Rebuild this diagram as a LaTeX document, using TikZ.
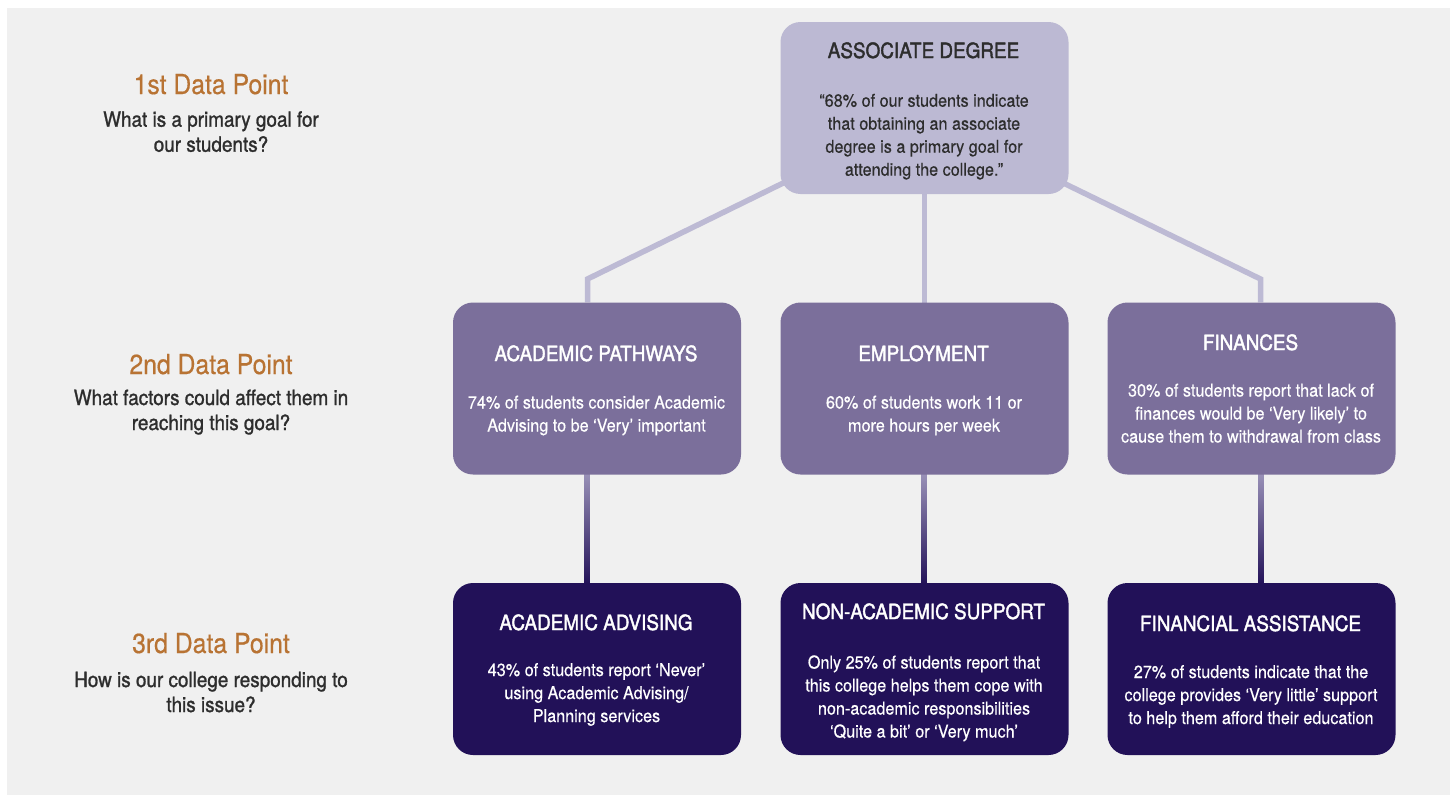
\documentclass[tikz,border=0pt]{standalone}
\usepackage{fontspec}
\setmainfont{TeX Gyre Heros}[FakeStretch=0.92,FakeBold=0.4]
\newfontfamily\titlefont{TeX Gyre Heros}[FakeStretch=0.9,FakeBold=1.8]
\newfontfamily\qfont{TeX Gyre Heros}[FakeStretch=0.9,FakeBold=1.2]
\newfontfamily\dpfont{TeX Gyre Heros}[FakeStretch=0.9,FakeBold=0.5]
\newcommand\mlines[1]{\begin{tabular}[t]{@{}c@{}}#1\end{tabular}}
\definecolor{bgcol}{HTML}{F0F0F0}
\definecolor{lvla}{HTML}{BCB9D3}
\definecolor{lvlb}{HTML}{7B6F9B}
\definecolor{lvlc}{HTML}{221158}
\definecolor{conncol}{HTML}{BDBAD4}
\definecolor{gradtop}{HTML}{9A92B8}
\definecolor{dpcol}{HTML}{B87333}
\definecolor{darktext}{HTML}{2D2D2D}
\pgfdeclarelayer{bg}
\pgfdeclarelayer{conn}
\pgfsetlayers{bg,conn,main}
\begin{document}
\begin{tikzpicture}[x=1pt,y=-1pt,
  box/.style={rounded corners=20pt, minimum width=288pt, minimum height=172pt, inner sep=0pt, draw=none},
  boxa/.style={box, fill=lvla},
  boxb/.style={box, fill=lvlb},
  boxc/.style={box, fill=lvlc},
  ttl/.style={anchor=base, inner sep=0pt, font=\titlefont\fontsize{21}{25}\selectfont},
  bodytxt/.style={anchor=base, inner sep=0pt, font=\fontsize{17.6}{23}\selectfont},
  dptxt/.style={anchor=base, inner sep=0pt, text=dpcol, font=\dpfont\fontsize{27.5}{32}\selectfont},
  qtxt/.style={anchor=base, inner sep=0pt, text=darktext, font=\qfont\fontsize{21}{25}\selectfont},
  link/.style={draw=conncol, line width=5.5pt, miter limit=10},
]
\useasboundingbox (0,0) rectangle (1450,795);
\begin{pgfonlayer}{bg}
\fill[bgcol] (7,8) rectangle (1450,795);
\end{pgfonlayer}

% boxes
\node[boxa] (top) at (924.5,108) {};
\node[boxb] (ap)  at (597,388.5) {};
\node[boxb] (emp) at (924.5,388.5) {};
\node[boxb] (fin) at (1251.5,388.5) {};
\node[boxc] (aa)  at (597,669) {};
\node[boxc] (nas) at (924.5,669) {};
\node[boxc] (fa)  at (1251.5,669) {};

% texts in boxes
\node[ttl, text=darktext] (topt) at (923.5,58) {ASSOCIATE DEGREE};
\node[bodytxt, text=darktext] (topb) at (924,106.7) {\mlines{“68\% of our students indicate\\that obtaining an associate\\degree is a primary goal for\\attending the college.”}};

\node[ttl, text=white] (apt) at (596,361) {ACADEMIC PATHWAYS};
\node[bodytxt, text=white] (apb) at (596.5,408.5) {\mlines{74\% of students consider Academic\\Advising to be ‘Very’ important}};
\node[ttl, text=white] (empt) at (923.5,361) {EMPLOYMENT};
\node[bodytxt, text=white] (empb) at (924,408.5) {\mlines{60\% of students work 11 or\\more hours per week}};
\node[ttl, text=white] (fint) at (1250.5,350) {FINANCES};
\node[bodytxt, text=white] (finb) at (1251,396.5) {\mlines{30\% of students report that lack of\\finances would be ‘Very likely’ to\\cause them to withdrawal from class}};

\node[ttl, text=white] (aat) at (596,630) {ACADEMIC ADVISING};
\node[bodytxt, text=white] (aab) at (596.5,676) {\mlines{43\% of students report ‘Never’\\using Academic Advising/\\Planning services}};
\node[ttl, text=white] (nast) at (923.5,619) {NON-ACADEMIC SUPPORT};
\node[bodytxt, text=white] (nasb) at (924,668.5) {\mlines{Only 25\% of students report that\\this college helps them cope with\\non-academic responsibilities\\‘Quite a bit’ or ‘Very much’}};
\node[ttl, text=white] (fat) at (1250.5,631) {FINANCIAL ASSISTANCE};
\node[bodytxt, text=white] (fab) at (1251,678) {\mlines{27\% of students indicate that the\\college provides ‘Very little’ support\\to help them afford their education}};

% left column
\node[dptxt] (dp1) at (211,94) {1st Data Point};
\node[qtxt] (q1) at (211,126.7) {\mlines{What is a primary goal for\\our students?}};
\node[dptxt] (dp2) at (211,374) {2nd Data Point};
\node[qtxt] (q2) at (211,405) {\mlines{What factors could affect them in\\reaching this goal?}};
\node[dptxt] (dp3) at (211,653) {3rd Data Point};
\node[qtxt] (q3) at (211,687) {\mlines{How is our college responding to\\this issue?}};

% connectors
\begin{pgfonlayer}{conn}
\coordinate (kl) at (587.5,279);
\coordinate (kr) at (1260.5,279);
\draw[link] ([xshift=11.5pt,yshift=15.4pt]top.south west) -- (kl) -- (kl |- ap.north);
\draw[link] ([xshift=-14pt,yshift=15.4pt]top.south east) -- (kr) -- (kr |- fin.north);
\draw[link] ([yshift=2pt]top.south) -- ([yshift=-2pt]emp.north);
\shade[top color=gradtop, bottom color=lvlc] ([xshift=-12.5pt,yshift=2pt]ap.south) rectangle ([xshift=-7.5pt,yshift=-2pt]aa.north);
\shade[top color=gradtop, bottom color=lvlc] ([xshift=-3pt,yshift=2pt]emp.south) rectangle ([xshift=2pt,yshift=-2pt]nas.north);
\shade[top color=gradtop, bottom color=lvlc] ([xshift=7pt,yshift=2pt]fin.south) rectangle ([xshift=12pt,yshift=-2pt]fa.north);
\end{pgfonlayer}
\end{tikzpicture}
\end{document}
